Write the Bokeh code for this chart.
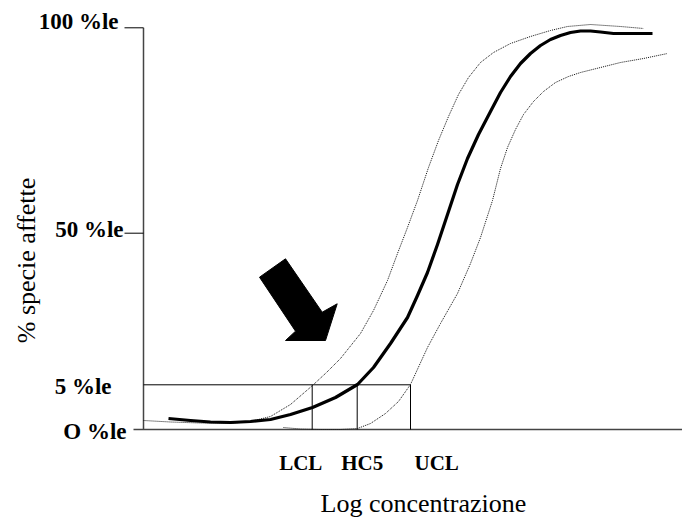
from bokeh.plotting import figure
from bokeh.models import Range1d
from bokeh.core.properties import value
from bokeh.embed import file_html
from bokeh.resources import INLINE

# ---- data (chart units: x = log concentration, y = percentile scale position) ----
main_x = [25, 47, 67, 87, 107, 127, 147, 169, 192, 214, 230, 247, 264, 274, 284, 294, 304, 314,
          324, 335, 347, 357, 367, 377, 387, 397, 407, 417, 427, 437, 447, 457, 470, 487, 509]
main_y = [11, 9, 7.5, 7, 8, 10, 15, 22, 32, 45, 62, 86, 112, 134, 157, 185, 215, 245,
          271, 295, 318, 337, 353, 366, 376, 384, 390, 394, 397, 398.5, 398.5, 397.5, 396, 396, 396]

upper_x = [0, 27, 57, 87, 107, 127, 147, 169, 183, 197, 217, 230, 244, 254, 264, 274, 285, 295,
           305, 315, 325, 337, 350, 367, 387, 407, 424, 447, 477, 500]
upper_y = [9, 7.5, 6.5, 6, 8, 13, 25, 44, 57, 71, 96, 119, 149, 176, 202, 229, 262, 289,
           313, 335, 352, 367, 377, 386, 393, 399, 403, 405, 403, 401]

lower_x = [140, 157, 177, 197, 214, 227, 242, 255, 267, 284, 297, 314, 327, 337, 349, 357, 364,
           372, 380, 390, 400, 412, 425, 437, 457, 477, 500, 524]
lower_y = [2, 0.5, 0, 0, 1, 6, 16, 28, 45, 82, 106, 136, 166, 192, 229, 261, 282,
           300, 315, 328, 338, 347, 353, 357, 362, 367, 371, 376]

level_labels = ["O %le", "5 %le", "50 %le", "100 %le"]
level_pos = [0, 44.7, 196.3, 401.7]

limit_labels = ["LCL", "HC5", "UCL"]
limit_pos = [168.7, 213.7, 267]

arrow_x = [116, 142, 178.7, 193.7, 182, 142, 152]
arrow_y = [152.3, 170.7, 117.3, 125.7, 89, 89, 98.3]

x_end = 539
x_title = "Log concentrazione"
y_title = "% specie affette"

# ---- figure ----
W, H = 682, 518
p = figure(width=W, height=H, output_backend="svg", toolbar_location=None,
           x_range=Range1d(-143, 539), y_range=Range1d(-89, 429),
           x_axis_location=None, y_axis_location=None, min_border=0)
p.outline_line_color = None
p.xgrid.visible = False
p.ygrid.visible = False
p.background_fill_color = "white"
p.border_fill_color = "white"

serif = value("Liberation Serif")
axis_col = "#444444"

# axes
p.segment(x0=[0], y0=[0], x1=[0], y1=[level_pos[3]], line_color=axis_col, line_width=1.5)
p.segment(x0=[-10], y0=[0], x1=[x_end], y1=[0], line_color=axis_col, line_width=1.5)
# ticks at 50 and 100
p.segment(x0=[-19, -19], y0=[level_pos[2], level_pos[3]], x1=[0, 0], y1=[level_pos[2], level_pos[3]],
          line_color="black", line_width=1)

# 5% reference lines
p.segment(x0=[0], y0=[level_pos[1]], x1=[limit_pos[2]], y1=[level_pos[1]], line_color="black", line_width=1)
p.segment(x0=limit_pos, y0=[0] * 3, x1=limit_pos, y1=[level_pos[1]] * 3, line_color="black", line_width=1)

# confidence bounds (dotted)
p.line(upper_x, upper_y, line_color="#111111", line_width=1, line_dash="1 1")
p.line(lower_x, lower_y, line_color="#111111", line_width=1, line_dash="1 1")
# main SSD curve
p.line(main_x, main_y, line_color="black", line_width=3.2, line_join="round")

# arrow
p.patch(arrow_x, arrow_y, fill_color="black", line_color="black", line_width=1)

# level labels (bold)
x_offs = [-17, -32, -20, -25]
y_offs = [2, 2, -4, -6]
for lab, pos, xo, yo in zip(level_labels, level_pos, x_offs, y_offs):
    p.text(x=[0], y=[pos], text=[lab], x_offset=xo, y_offset=yo, text_align="right",
           text_baseline="alphabetic", text_font=serif, text_font_style="bold",
           text_font_size="23px", text_color="black")

# limit labels
lx_offs = [-33, -16, 4]
for lab, pos, xo in zip(limit_labels, limit_pos, lx_offs):
    p.text(x=[pos], y=[0], text=[lab], x_offset=xo, y_offset=33, text_align="left",
           text_baseline="alphabetic", text_font=serif, text_font_style="bold",
           text_font_size="21px", text_color="black")

# axis titles
p.text(x=[177], y=[0], text=[x_title], y_offset=74, text_align="left", text_baseline="alphabetic",
       text_font=serif, text_font_size="26px", text_color="black")
p.text(x=[-117], y=[169], text=[y_title], angle=1.5708, text_align="center",
       text_baseline="alphabetic", text_font=serif, text_font_size="26px", text_color="black")

open("out.html", "w").write(file_html(p, INLINE))
